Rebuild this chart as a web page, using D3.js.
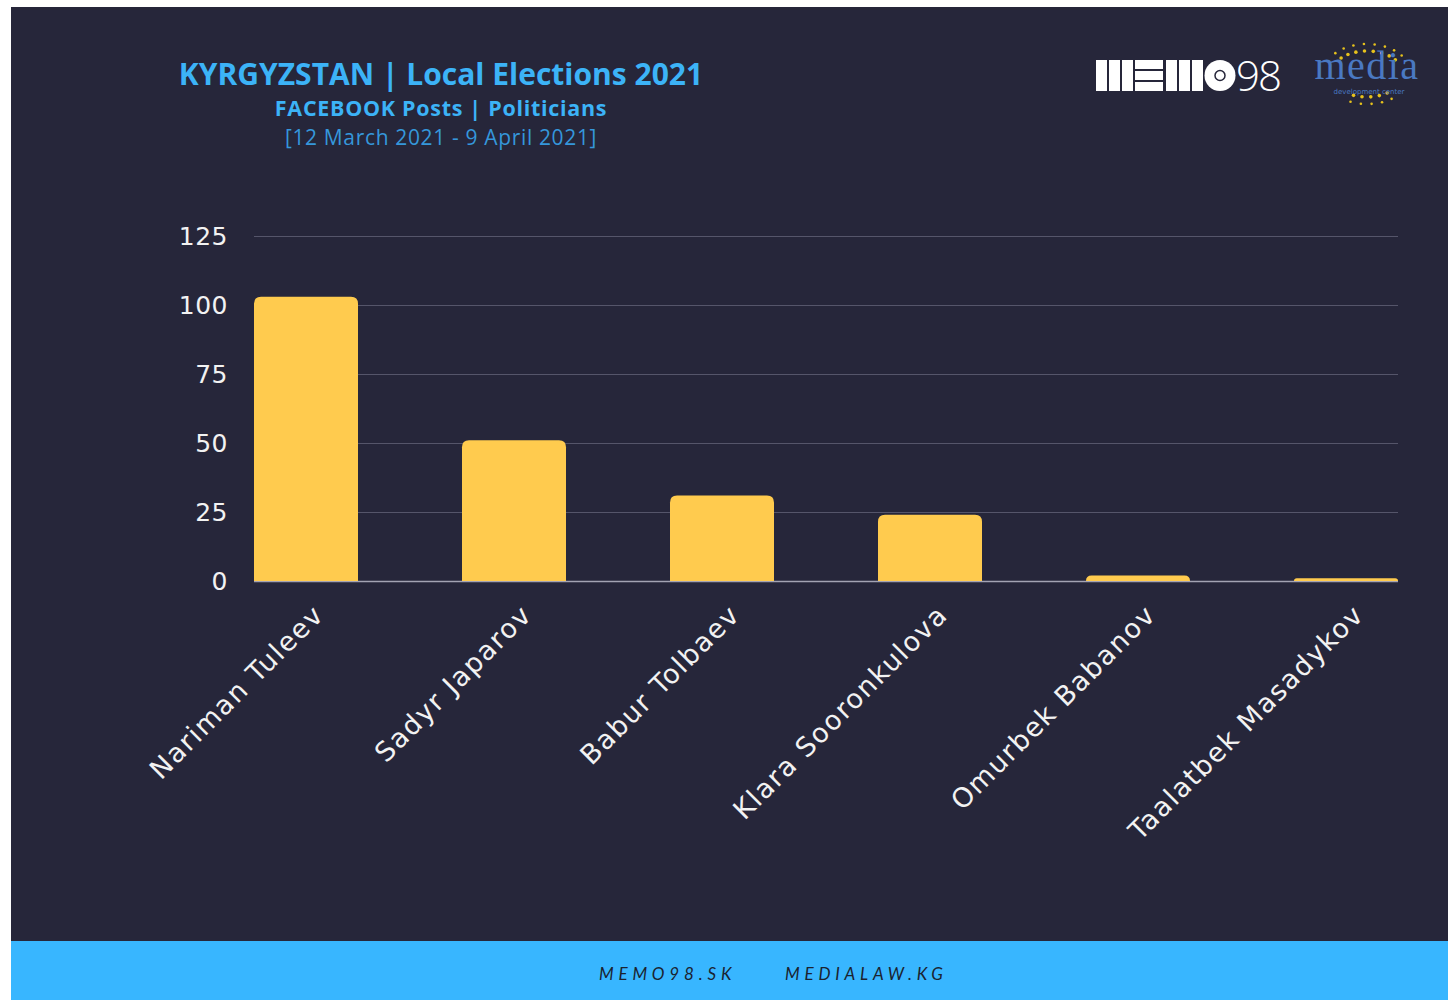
<!DOCTYPE html>
<html>
<head>
<meta charset="utf-8">
<script src="https://cdn.jsdelivr.net/npm/d3@7"></script>
<style>
  html, body { margin: 0; padding: 0; background: #ffffff; }
  svg { display: block; }
</style>
</head>
<body>
<svg id="chart" width="1448" height="1000"></svg>
<script>
"use strict";

// chart data
const politicians = ["Nariman Tuleev", "Sadyr Japarov", "Babur Tolbaev",
    "Klara Sooronkulova", "Omurbek Babanov", "Taalatbek Masadykov"];
const postCounts = [103, 51, 31, 24, 2, 1];
const yTicks = [0, 25, 50, 75, 100, 125];

const titleLines = ["KYRGYZSTAN | Local Elections 2021", "FACEBOOK Posts | Politicians",
    "[12 March 2021 - 9 April 2021]"];
const footerLinks = ["MEMO98.SK", "MEDIALAW.KG"];

const svg = d3.select("#chart");

// panel + footer band
svg.append("rect")
    .attr("x", 11).attr("y", 7)
    .attr("width", 1437).attr("height", 934)
    .style("fill", "#26263a");
svg.append("rect")
    .attr("x", 11).attr("y", 941)
    .attr("width", 1437).attr("height", 59)
    .style("fill", "#38b6ff");

// titles
const titleStyles = [
    {y: 84.5, size: 30, weight: 700, fill: "#3cb3f7", ls: 0},
    {y: 116, size: 21.5, weight: 700, fill: "#3cb3f7", ls: 0.7},
    {y: 145, size: 21, weight: 400, fill: "#3597db", ls: 0.65}
];
svg.append("g")
    .selectAll("text")
    .data(titleLines)
    .join("text")
    .attr("x", 441)
    .attr("y", (d, i) => titleStyles[i].y)
    .attr("text-anchor", "middle")
    .style("font-family", "'Open Sans', sans-serif")
    .style("font-size", (d, i) => titleStyles[i].size + "px")
    .style("font-weight", (d, i) => titleStyles[i].weight)
    .style("letter-spacing", (d, i) => titleStyles[i].ls + "px")
    .style("fill", (d, i) => titleStyles[i].fill)
    .text(d => d);

// scales
const x = d3.scaleBand()
    .domain(politicians)
    .range([254, 1398])
    .paddingInner(0.5)
    .paddingOuter(0);

const y = d3.scaleLinear()
    .domain([0, 125])
    .range([581, 236]);

// gridlines + y tick labels
const yAxis = svg.append("g")
    .attr("transform", "translate(254,0)")
    .call(d3.axisLeft(y).tickValues(yTicks).tickSize(-1144).tickPadding(26));
yAxis.select(".domain").remove();
yAxis.selectAll(".tick line")
    .style("stroke", (d) => d === 0 ? "#a3a3b3" : "#55556a")
    .style("stroke-width", (d) => d === 0 ? 1.5 : 1);
yAxis.selectAll(".tick text")
    .style("font-family", "'DejaVu Sans', sans-serif")
    .style("font-size", "25px")
    .style("letter-spacing", "0.5px")
    .style("fill", "#f2f2f2");

// bars with rounded tops
const r = 7;
function barPath(d, i) {
    const x0 = x(politicians[i]), w = x.bandwidth();
    const top = y(d), bottom = y(0);
    const rr = Math.min(r, (bottom - top));
    return `M${x0},${bottom} L${x0},${top + rr} Q${x0},${top} ${x0 + rr},${top}`
        + ` L${x0 + w - rr},${top} Q${x0 + w},${top} ${x0 + w},${top + rr}`
        + ` L${x0 + w},${bottom} Z`;
}
svg.append("g")
    .selectAll("path")
    .data(postCounts)
    .join("path")
    .attr("d", barPath)
    .style("fill", "#ffcb4e");

// rotated category labels
svg.append("g")
    .selectAll("text")
    .data(politicians)
    .join("text")
    .attr("transform", (d) => `translate(${x(d) + x.bandwidth() / 2 + 6},${603}) rotate(-45)`)
    .attr("text-anchor", "end")
    .attr("dy", "0.7em")
    .style("font-family", "'DejaVu Sans', sans-serif")
    .style("font-size", "27px")
    .style("letter-spacing", "1.6px")
    .style("fill", "#f2f2f2")
    .text(d => d);

// MEMO98 logo
const logo = svg.append("g").attr("transform", "translate(1096,60)");
const vBars = [0, 13, 26, 70, 83, 96];
logo.selectAll("rect.v")
    .data(vBars)
    .join("rect")
    .attr("class", "v")
    .attr("x", d => d).attr("y", 0)
    .attr("width", 11).attr("height", 31)
    .style("fill", "#ffffff");
logo.selectAll("rect.h")
    .data([0, 11, 22])
    .join("rect")
    .attr("class", "h")
    .attr("x", 39).attr("y", d => d)
    .attr("width", 28).attr("height", 9)
    .style("fill", "#ffffff");
logo.append("circle").attr("cx", 124).attr("cy", 15.5).attr("r", 15.5).style("fill", "#ffffff");
logo.append("circle").attr("cx", 124).attr("cy", 15.5).attr("r", 5).style("fill", "none")
    .style("stroke", "#26263a").style("stroke-width", 1.5);
logo.append("text")
    .attr("x", 140).attr("y", 31)
    .style("font-family", "'Open Sans', sans-serif")
    .style("font-size", "42px")
    .style("font-weight", 300)
    .style("letter-spacing", "-2px")
    .style("fill", "#ffffff")
    .text("98");

// media development center logo
const mdc = svg.append("g").attr("transform", "translate(1367,74)");
const dotAngles = d3.range(0, 360, 14);
[[44, 30, 1.3], [36, 23, 1.8]].forEach(([rx, ry, dr]) => {
    mdc.append("g").selectAll("circle")
        .data(dotAngles.filter(a => (a > 215 && a < 325) || (a > 55 && a < 125)))
        .join("circle")
        .attr("cx", a => Math.cos(a * Math.PI / 180) * rx)
        .attr("cy", a => Math.sin(a * Math.PI / 180) * ry)
        .attr("r", dr)
        .style("fill", "#e7c21c");
});
mdc.append("text")
    .attr("x", 0).attr("y", 5)
    .attr("text-anchor", "middle")
    .style("font-family", "'Liberation Serif', serif")
    .style("font-size", "40px")
    .style("letter-spacing", "1.5px")
    .style("fill", "#4a79c2")
    .text("media");
mdc.append("text")
    .attr("x", 2).attr("y", 20)
    .attr("text-anchor", "middle")
    .style("font-family", "'DejaVu Sans', sans-serif")
    .style("font-size", "7px")
    .style("fill", "#4a79c2")
    .text("development center");

// footer links
svg.append("g")
    .selectAll("text")
    .data(footerLinks)
    .join("text")
    .attr("x", (d, i) => [599, 785][i])
    .attr("y", 980)
    .style("font-family", "Lato, sans-serif")
    .style("font-size", "17px")
    .style("font-style", "italic")
    .style("letter-spacing", "4.8px")
    .style("fill", "#1b2330")
    .text(d => d);
</script>
</body>
</html>
